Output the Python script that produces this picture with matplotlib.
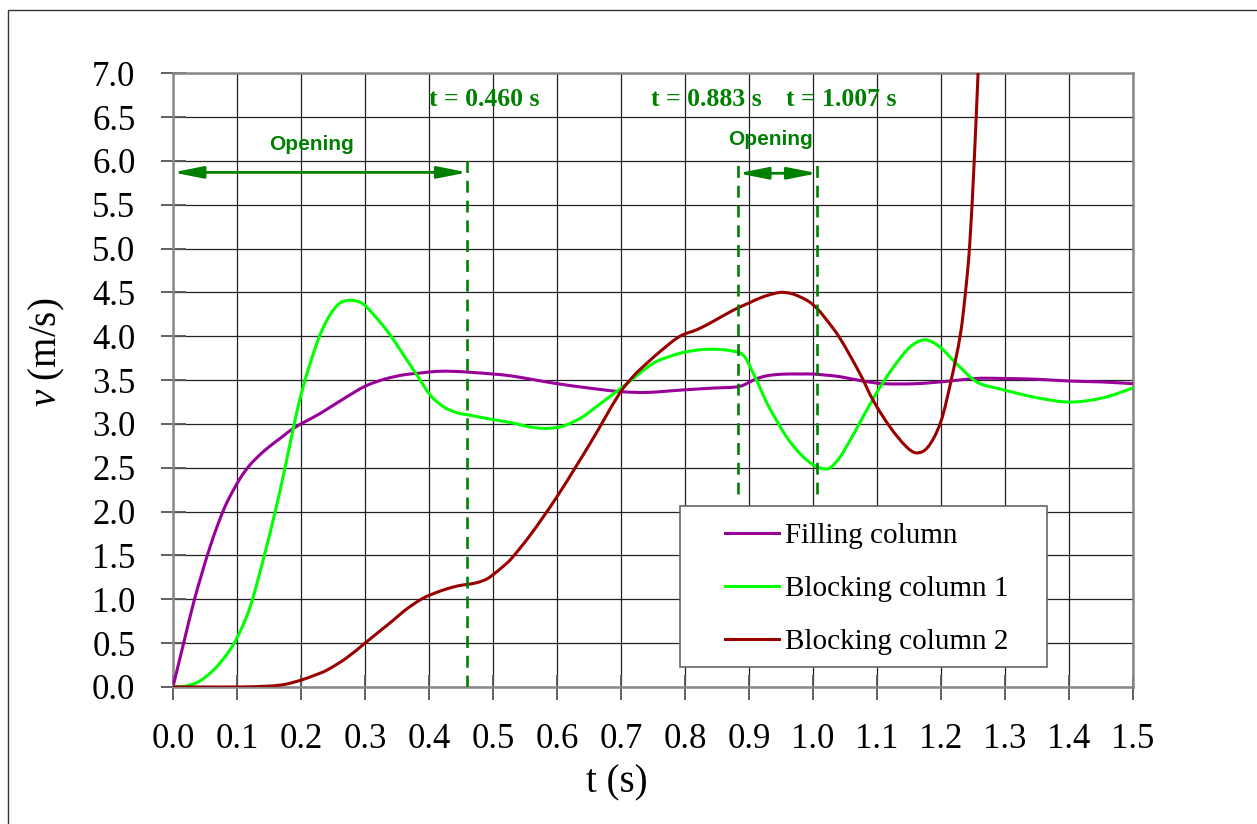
import matplotlib
matplotlib.use("Agg")
import numpy as np
import matplotlib.pyplot as plt
from matplotlib.patches import Rectangle, PathPatch
from matplotlib.path import Path
from matplotlib.lines import Line2D

# ---- data -----------------------------------------------------------------
t_fill = [0.0, 0.016, 0.032, 0.045, 0.058, 0.071, 0.084, 0.105, 0.12, 0.136,
          0.152, 0.17, 0.188, 0.21, 0.23, 0.265, 0.3, 0.33, 0.36, 0.385,
          0.412, 0.44, 0.464, 0.5, 0.527, 0.56, 0.6, 0.65, 0.698, 0.74, 0.8,
          0.845, 0.886, 0.907, 0.922, 0.938, 0.96, 0.98, 1.0, 1.016, 1.042,
          1.078, 1.11, 1.162, 1.214, 1.256, 1.292, 1.35, 1.4, 1.45, 1.5]
v_fill = [0.0, 0.48, 0.955, 1.29, 1.60, 1.87, 2.10, 2.38, 2.53, 2.65,
          2.75, 2.85, 2.95, 3.04, 3.12, 3.28, 3.43, 3.51, 3.56, 3.58,
          3.60, 3.60, 3.59, 3.57, 3.55, 3.51, 3.46, 3.41, 3.37, 3.36, 3.39,
          3.41, 3.43, 3.50, 3.54, 3.56, 3.57, 3.57, 3.57, 3.56, 3.54,
          3.49, 3.46, 3.46, 3.49, 3.52, 3.52, 3.51, 3.49, 3.48, 3.46]

t_block1 = [0.0, 0.02, 0.04, 0.063, 0.085, 0.1, 0.12, 0.141, 0.162, 0.178,
            0.193, 0.204, 0.217, 0.230, 0.245, 0.261, 0.279, 0.297, 0.318,
            0.339, 0.360, 0.381, 0.402, 0.422, 0.443, 0.464, 0.5, 0.532,
            0.555, 0.579, 0.6, 0.615, 0.64, 0.662, 0.704, 0.75, 0.78, 0.8,
            0.829, 0.855, 0.876, 0.886, 0.894, 0.902, 0.915, 0.928, 0.944,
            0.959, 0.975, 0.990, 1.004, 1.016, 1.027, 1.042, 1.057, 1.073,
            1.099, 1.126, 1.152, 1.175, 1.198, 1.224, 1.256, 1.292, 1.35,
            1.402, 1.454, 1.5]
v_block1 = [0.0, 0.01, 0.06, 0.19, 0.38, 0.56, 0.90, 1.45, 2.07, 2.60,
            3.12, 3.44, 3.75, 4.02, 4.24, 4.38, 4.41, 4.37, 4.21,
            4.02, 3.79, 3.56, 3.33, 3.20, 3.13, 3.10, 3.05, 3.01,
            2.97, 2.95, 2.96, 2.99, 3.08, 3.20, 3.43, 3.69, 3.78, 3.82,
            3.85, 3.85, 3.83, 3.81, 3.76, 3.65, 3.45, 3.24, 3.03,
            2.85, 2.70, 2.59, 2.52, 2.49, 2.50, 2.62, 2.80, 3.01,
            3.35, 3.65, 3.88, 3.96, 3.88, 3.69, 3.48, 3.40, 3.30,
            3.25, 3.30, 3.41]

t_block2 = [0.0, 0.05, 0.1, 0.15, 0.175, 0.201, 0.22, 0.24, 0.271, 0.3,
            0.322, 0.344, 0.36, 0.375, 0.39, 0.402, 0.42, 0.438, 0.45, 0.46,
            0.475, 0.49, 0.5, 0.515, 0.527, 0.558, 0.6, 0.652, 0.698, 0.72,
            0.74, 0.765, 0.792, 0.82, 0.844, 0.876, 0.9, 0.922, 0.948, 0.965,
            0.98, 0.995, 1.006, 1.02, 1.042, 1.073, 1.094, 1.120, 1.146,
            1.162, 1.180, 1.2, 1.216, 1.231, 1.239, 1.245, 1.252, 1.258,
            1.264]
v_block2 = [0.0, 0.0, 0.0, 0.01, 0.03, 0.08, 0.13, 0.19, 0.33, 0.5,
            0.63, 0.76, 0.86, 0.94, 1.01, 1.05, 1.10, 1.14, 1.16, 1.17,
            1.19, 1.23, 1.28, 1.37, 1.45, 1.73, 2.17, 2.78, 3.35, 3.55,
            3.69, 3.85, 4.00, 4.08, 4.17, 4.30, 4.38, 4.45, 4.50, 4.49,
            4.45, 4.39, 4.32, 4.20, 3.98, 3.58, 3.27, 2.97, 2.74,
            2.67, 2.74, 3.03, 3.50, 4.05, 4.55, 5.05, 6.0, 7.0,
            8.0]

series_labels = ["Filling column", "Blocking column 1", "Blocking column 2"]
series_colors = ["#990099", "#00ff00", "#990000"]

event_times = [0.460, 0.883, 1.007]
event_labels = ["t = 0.460 s", "t = 0.883 s", "t = 1.007 s"]

x_ticks = [round(0.1 * i, 1) for i in range(16)]
y_ticks = [round(0.5 * i, 1) for i in range(15)]


def smooth_path(xs, ys):
    """Smoothed polyline: cubic Bezier segments through every sample,
    with tangents taken from the neighbouring samples."""
    x = np.asarray(xs, float)
    y = np.asarray(ys, float)
    n = len(x)
    m = np.empty(n)
    m[1:-1] = (y[2:] - y[:-2]) / (x[2:] - x[:-2])
    m[0] = (y[1] - y[0]) / (x[1] - x[0])
    m[-1] = (y[-1] - y[-2]) / (x[-1] - x[-2])
    verts = [(x[0], y[0])]
    codes = [Path.MOVETO]
    for i in range(n - 1):
        h = x[i + 1] - x[i]
        verts += [(x[i] + h / 3, y[i] + m[i] * h / 3),
                  (x[i + 1] - h / 3, y[i + 1] - m[i + 1] * h / 3),
                  (x[i + 1], y[i + 1])]
        codes += [Path.CURVE4] * 3
    return Path(verts, codes)


# ---- styling ----------------------------------------------------------------
plt.rcParams["font.family"] = ["Liberation Serif", "DejaVu Serif"]
plt.rcParams["mathtext.fontset"] = "custom"
plt.rcParams["mathtext.rm"] = "Liberation Serif"
plt.rcParams["mathtext.it"] = "Liberation Serif:italic"

green = "#008000"

fig = plt.figure(figsize=(12.57, 8.24), dpi=100)
ax = fig.add_axes([0.1376, 0.1663, 0.7637, 0.7447])

# outer frame around the figure
fig.patches.append(Rectangle((8 / 1257, -0.05), 1.1, 1.05 - 10 / 824,
                             transform=fig.transFigure, fill=False,
                             edgecolor="#333333", linewidth=1.0))

ax.set_xlim(0, 1.5)
ax.set_ylim(0, 7.0)
ax.set_xticks(x_ticks)
ax.set_yticks(y_ticks)
ax.set_xticklabels([f"{v:.1f}" for v in x_ticks])
ax.set_yticklabels([f"{v:.1f}" for v in y_ticks])
ax.grid(True, color="#222222", linewidth=0.9)
ax.set_axisbelow(True)
ax.tick_params(axis="both", direction="inout", length=18, width=1.3,
               color="#555555", labelsize=25)
ax.tick_params(axis="x", pad=17)
ax.tick_params(axis="y", pad=18)
for sp in ax.spines.values():
    sp.set_color("#888888")
    sp.set_linewidth(1.8)

# curves
handles = []
for tt, vv, lab, col in zip([t_fill, t_block1, t_block2],
                            [v_fill, v_block1, v_block2],
                            series_labels, series_colors):
    patch = PathPatch(smooth_path(tt, vv), facecolor="none", edgecolor=col,
                      linewidth=2.2, zorder=3, capstyle="round",
                      joinstyle="round")
    ax.add_patch(patch)
    handles.append(Line2D([], [], color=col, linewidth=2.2, label=lab))

# event markers
dash_style = dict(color=green, linewidth=1.9, dashes=(4.5, 3.0), zorder=3.5)
ax.plot([event_times[0], event_times[0]], [0.0, 6.03], **dash_style)
ax.plot([event_times[1], event_times[1]], [2.2, 5.95], **dash_style)
ax.plot([event_times[2], event_times[2]], [2.2, 5.95], **dash_style)

arrow_props = dict(arrowstyle="<|-|>,head_length=1.8,head_width=0.36",
                   mutation_scale=10, color=green, linewidth=2.0,
                   shrinkA=0, shrinkB=0)
ax.annotate("", xy=(0.0, 5.87), xytext=(event_times[0], 5.87),
            arrowprops=arrow_props, zorder=4)
ax.annotate("", xy=(event_times[1], 5.86), xytext=(event_times[2], 5.86),
            arrowprops=arrow_props, zorder=4)

sans_bold = dict(family="Liberation Sans", fontweight="bold", fontsize=15,
                 color=green, ha="center", va="center")
ax.text(0.217, 6.19, "Opening", **sans_bold)
ax.text(0.933, 6.24, "Opening", **sans_bold)

serif_bold = dict(fontweight="bold", fontsize=18.5, color=green,
                  ha="center", va="center")
for xc, lab in zip([0.486, 0.834, 1.045], event_labels):
    ax.text(xc, 6.70, lab, **serif_bold)

# axis labels
ax.set_xlabel("t (s)", fontsize=28)
ax.xaxis.set_label_coords(0.4625, -0.126)
ax.set_ylabel(r"$v$ (m/s)", fontsize=28)
ax.yaxis.set_label_coords(-0.110, 0.545)

# legend with its own box
ax.add_patch(Rectangle((0.528, 0.033), 0.383, 0.262, transform=ax.transAxes,
                       facecolor="white", edgecolor="#666666", linewidth=1.2,
                       zorder=4.5))
leg = ax.legend(handles=handles, loc="upper left",
                bbox_to_anchor=(0.575, 0.268), frameon=False, fontsize=21,
                handlelength=1.85, handletextpad=0.2, labelspacing=0.91,
                borderpad=0, borderaxespad=0)
leg.set_zorder(5)

fig.savefig("out.png", dpi=100)
